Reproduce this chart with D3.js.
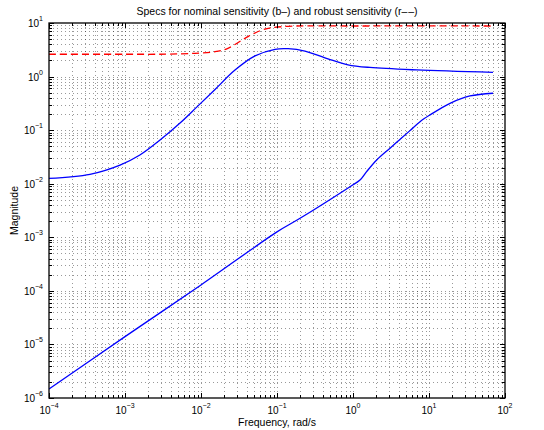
<!DOCTYPE html>
<html>
<head>
<meta charset="utf-8">
<script src="https://cdn.jsdelivr.net/npm/d3@7"></script>
<style>
  html, body { margin: 0; padding: 0; background: #fff; }
  svg { display: block; font-family: "Liberation Sans", Arial, Helvetica, sans-serif; }
</style>
</head>
<body>
<svg id="chart" width="544" height="430"></svg>
<script>
// ---- Data ----
const titleText = "Specs for nominal sensitivity (b\u2013) and robust sensitivity (r\u2013\u200A\u2013)";
const xLabelText = "Frequency, rad/s";
const yLabelText = "Magnitude";
const xTickExponents = [-4, -3, -2, -1, 0, 1, 2];
const yTickExponents = [-6, -5, -4, -3, -2, -1, 0, 1];

// Nominal sensitivity spec (blue, upper)
const nominalFreq = [1e-4, 3.46e-4, 8.6e-4, 1.57e-3, 2.89e-3, 5.3e-3, 8.78e-3, 0.0153, 0.028, 0.0514, 0.0942, 0.14, 0.233, 0.469, 0.859, 1.67, 6.9, 69.5];
const nominalMag  = [0.0126, 0.0150, 0.0223, 0.0344, 0.0655, 0.136, 0.269, 0.575, 1.32, 2.43, 3.23, 3.31, 2.99, 2.14, 1.66, 1.48, 1.33, 1.20];

// Robust sensitivity spec (red, dashed)
const robustFreq = [1e-4, 1e-3, 3.5e-3, 8.34e-3, 0.0153, 0.0226, 0.0379, 0.0635, 0.116, 1.44, 69.5];
const robustMag  = [2.61, 2.61, 2.62, 2.72, 2.91, 3.37, 5.18, 7.39, 8.53, 8.79, 8.79];

// Second blue curve (lower)
const lowerFreq = [1e-4, 1e-3, 1e-2, 0.1, 0.201, 0.914, 1.236, 1.51, 2.05, 3.07, 4.15, 5.62, 7.62, 10.3, 18.9, 34.6, 69.5];
const lowerMag  = [1.47e-6, 1.4e-5, 1.29e-4, 1.26e-3, 2.26e-3, 8.8e-3, 0.0117, 0.0168, 0.0277, 0.046, 0.0671, 0.098, 0.144, 0.192, 0.317, 0.434, 0.488];

// ---- Layout ----
const svg = d3.select("#chart");
const L = 49, R = 505, T = 23, B = 398;
const x = d3.scaleLog().domain([1e-4, 1e2]).range([L, R]);
const y = d3.scaleLog().domain([1e-6, 1e1]).range([B, T]);

const gGrid = svg.append("g");
const xGridVals = [];
for (let e = -4; e < 2; e++) for (let k = 1; k <= 9; k++) xGridVals.push(k * Math.pow(10, e));
xGridVals.push(100);
const yGridVals = [];
for (let e = -6; e < 1; e++) for (let k = 1; k <= 9; k++) yGridVals.push(k * Math.pow(10, e));
yGridVals.push(10);

gGrid.selectAll("line.xg").data(xGridVals.filter(v => v > 1e-4 * 1.0001 && v < 100 * 0.9999)).enter()
  .append("line").attr("class", "xg")
  .attr("x1", d => Math.round(x(d)) + 0.5).attr("x2", d => Math.round(x(d)) + 0.5)
  .attr("y1", T).attr("y2", B)
  .attr("stroke", "#000").attr("stroke-opacity", 0.4).attr("stroke-width", 1)
  .attr("stroke-dasharray", "1,3");
gGrid.selectAll("line.yg").data(yGridVals.filter(v => v > 1e-6 * 1.0001 && v < 10 * 0.9999)).enter()
  .append("line").attr("class", "yg")
  .attr("y1", d => Math.round(y(d)) + 0.5).attr("y2", d => Math.round(y(d)) + 0.5)
  .attr("x1", L).attr("x2", R)
  .attr("stroke", "#000").attr("stroke-opacity", 0.4).attr("stroke-width", 1)
  .attr("stroke-dasharray", "1,3");

// ---- Curves ----
svg.append("clipPath").attr("id", "clip").append("rect")
  .attr("x", L).attr("y", T).attr("width", R - L).attr("height", B - T);
const gLines = svg.append("g").attr("clip-path", "url(#clip)");

function series(freq, mag) { return freq.map((f, i) => [f, mag[i]]); }
const line = d3.line().x(d => x(d[0])).y(d => y(d[1])).curve(d3.curveCatmullRom.alpha(0.5));

gLines.append("path").datum(series(robustFreq, robustMag))
  .attr("d", line).attr("fill", "none").attr("stroke", "#ff0000")
  .attr("stroke-width", 1.3).attr("stroke-dasharray", "7,4");
gLines.append("path").datum(series(nominalFreq, nominalMag))
  .attr("d", line).attr("fill", "none").attr("stroke", "#0000ff").attr("stroke-width", 1.3);
gLines.append("path").datum(series(lowerFreq, lowerMag))
  .attr("d", line).attr("fill", "none").attr("stroke", "#0000ff").attr("stroke-width", 1.3);

// ---- Axis box and ticks ----
const gAxis = svg.append("g");
const xMajor = xTickExponents.map(e => Math.pow(10, e));
const yMajor = yTickExponents.map(e => Math.pow(10, e));
const xMinor = xGridVals.filter(v => !xMajor.some(m => Math.abs(m - v) / m < 1e-6));
const yMinor = yGridVals.filter(v => !yMajor.some(m => Math.abs(m - v) / m < 1e-6));

function xTicks(vals, len) {
  vals.forEach(v => {
    const px = Math.round(x(v)) + 0.5;
    gAxis.append("line").attr("x1", px).attr("x2", px).attr("y1", B).attr("y2", B - len).attr("stroke", "#000");
    gAxis.append("line").attr("x1", px).attr("x2", px).attr("y1", T).attr("y2", T + len).attr("stroke", "#000");
  });
}
function yTicks(vals, len) {
  vals.forEach(v => {
    const py = Math.round(y(v)) + 0.5;
    gAxis.append("line").attr("y1", py).attr("y2", py).attr("x1", L).attr("x2", L + len).attr("stroke", "#000");
    gAxis.append("line").attr("y1", py).attr("y2", py).attr("x1", R).attr("x2", R - len).attr("stroke", "#000");
  });
}
xTicks(xMajor, 5); xTicks(xMinor, 3);
yTicks(yMajor, 5); yTicks(yMinor, 3);

gAxis.append("rect").attr("x", L).attr("y", T).attr("width", R - L).attr("height", B - T)
  .attr("fill", "none").attr("stroke", "#000").attr("stroke-width", 1.3);

// ---- Tick labels ----
function fmtExp(e) { return e < 0 ? "\u2212" + Math.abs(e) : String(e); }
xTickExponents.forEach(e => {
  const t = svg.append("text").attr("x", x(Math.pow(10, e))).attr("y", 414)
    .attr("text-anchor", "middle").attr("font-size", 10).attr("fill", "#000");
  t.append("tspan").text("10");
  t.append("tspan").attr("dy", -6).attr("font-size", 7).text(fmtExp(e));
});
yTickExponents.forEach(e => {
  const t = svg.append("text").attr("x", 43).attr("y", y(Math.pow(10, e)) + 4)
    .attr("text-anchor", "end").attr("font-size", 10).attr("fill", "#000");
  t.append("tspan").text("10");
  t.append("tspan").attr("dy", -6).attr("font-size", 7).text(fmtExp(e));
});

// ---- Title and axis labels ----
svg.append("text").attr("x", (L + R) / 2).attr("y", 15).attr("text-anchor", "middle")
  .attr("font-size", 10.5).attr("fill", "#000").text(titleText);
svg.append("text").attr("x", (L + R) / 2).attr("y", 426).attr("text-anchor", "middle")
  .attr("font-size", 10.5).attr("fill", "#000").text(xLabelText);
svg.append("text").attr("transform", `translate(18,${(T + B) / 2}) rotate(-90)`)
  .attr("text-anchor", "middle").attr("font-size", 10.5).attr("fill", "#000").text(yLabelText);
</script>
</body>
</html>
